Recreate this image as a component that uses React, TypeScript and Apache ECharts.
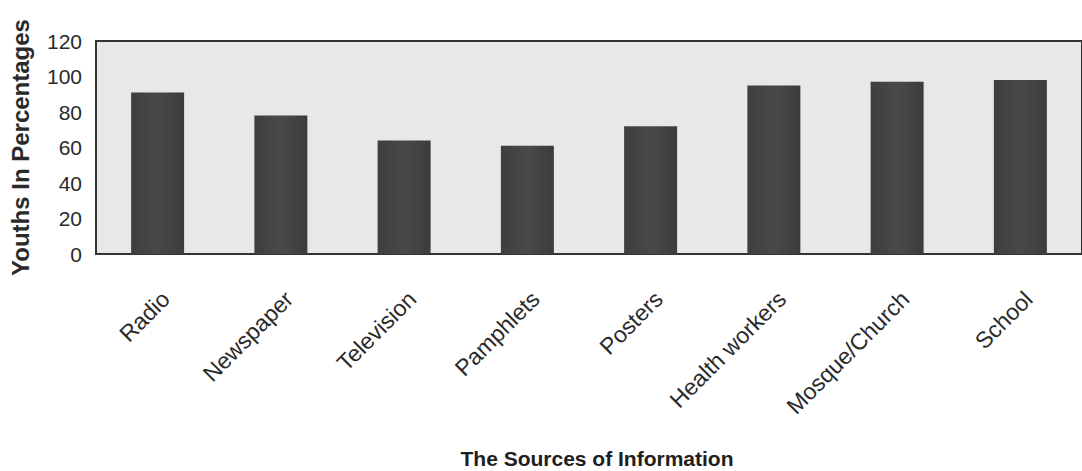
import React, { useEffect, useRef } from "react";
import * as echarts from "echarts";

const categories = [
  "Radio",
  "Newspaper",
  "Television",
  "Pamphlets",
  "Posters",
  "Health workers",
  "Mosque/Church",
  "School",
];
const percentages = [91, 78, 64, 61, 72, 95, 97, 98];
const yMin = 0;
const yMax = 120;
const yInterval = 20;
const xTitle = "The Sources of Information";
const yTitle = "Youths In Percentages";

const FONT = "'Liberation Sans', Arial, sans-serif";

export default function App() {
  const ref = useRef<HTMLDivElement>(null);
  useEffect(() => {
    if (!ref.current) return;
    const chart = echarts.init(ref.current, null, { renderer: "svg" });
    chart.setOption({
      animation: false,
      backgroundColor: "#ffffff",
      title: {
        text: xTitle,
        left: 592,
        textAlign: "center",
        top: 443,
        textStyle: {
          fontFamily: FONT,
          fontSize: 21,
          fontWeight: "bold",
          color: "#1e1e1e",
        },
      },
      grid: {
        left: 94,
        top: 41,
        right: -4,
        bottom: 217,
        show: true,
        backgroundColor: "#e8e8e8",
        borderColor: "#333333",
        borderWidth: 2,
        containLabel: false,
      },
      xAxis: {
        type: "category",
        data: categories,
        axisLine: { show: true, lineStyle: { color: "#333333", width: 2 } },
        axisTick: { show: false },
        axisLabel: {
          interval: 0,
          rotate: 45,
          margin: 33,
          verticalAlign: "top",
          fontFamily: FONT,
          fontSize: 23,
          color: "#2a2a2a",
        },
      },
      yAxis: {
        type: "value",
        min: yMin,
        max: yMax,
        interval: yInterval,
        name: yTitle,
        nameLocation: "middle",
        nameGap: 64,
        nameTextStyle: {
          fontFamily: FONT,
          fontSize: 24,
          fontWeight: "bold",
          color: "#2a2a2a",
        },
        axisLine: { show: false },
        axisTick: { show: false },
        splitLine: { show: false },
        axisLabel: {
          margin: 14,
          fontFamily: FONT,
          fontSize: 21,
          color: "#2a2a2a",
        },
      },
      series: [
        {
          type: "bar",
          data: percentages,
          barWidth: "43%",
          itemStyle: {
            color: {
              type: "linear",
              x: 0,
              y: 0,
              x2: 1,
              y2: 0,
              colorStops: [
                { offset: 0, color: "#3e3e3e" },
                { offset: 0.5, color: "#494949" },
                { offset: 1, color: "#3c3c3c" },
              ],
            },
          },
        },
      ],
    });
    return () => chart.dispose();
  }, []);
  return (
    <div
      ref={ref}
      style={{ position: "fixed", left: 0, top: 0, width: 1082, height: 471 }}
    />
  );
}
